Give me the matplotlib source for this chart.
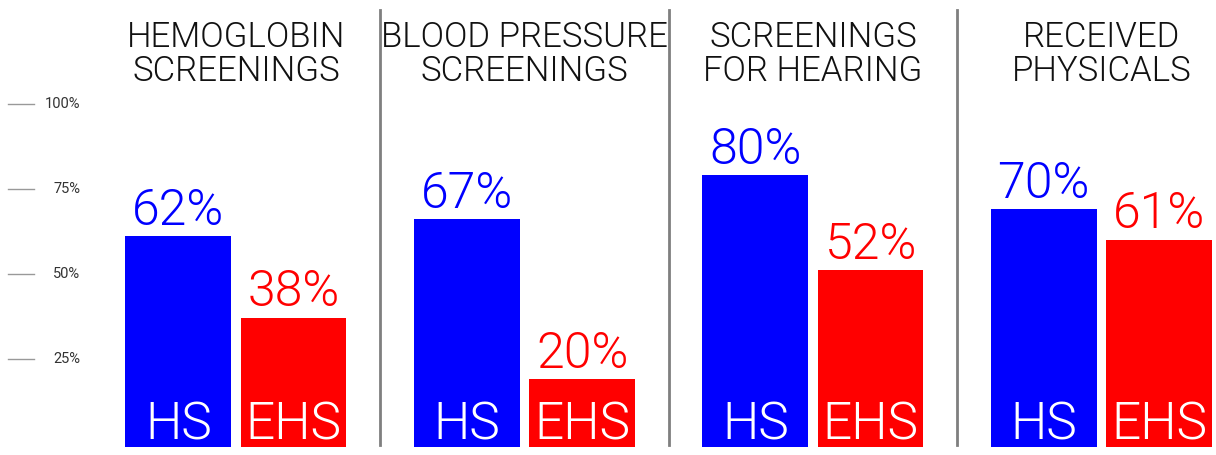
import matplotlib
matplotlib.use("Agg")
import matplotlib.pyplot as plt
import matplotlib.transforms as mtransforms

categories = ["HEMOGLOBIN\nSCREENINGS", "BLOOD PRESSURE\nSCREENINGS",
              "SCREENINGS\nFOR HEARING", "RECEIVED\nPHYSICALS"]
hs_values = [62, 67, 80, 70]
ehs_values = [38, 20, 52, 61]
series_names = ["HS", "EHS"]
tick_values = [25, 50, 75, 100]
tick_labels = ["25%", "50%", "75%", "100%"]

BLUE = "#0000ff"
RED = "#ff0000"
FONT = "Roboto"
WT = 300

fig = plt.figure(figsize=(12.16, 4.55), dpi=100)
ax = fig.add_axes([0, 0, 1, 1])
ax.set_xlim(-0.818, 3.397)
ax.set_ylim(-2.35, 131.5)
ax.axis("off")

off = 0.2
w = 0.366
xs = list(range(len(categories)))
hs_x = [x - off for x in xs]
ehs_x = [x + off for x in xs]
ax.bar(hs_x, hs_values, width=w, color=BLUE, zorder=2)
ax.bar(ehs_x, ehs_values, width=w, color=RED, zorder=2)

for xlist, vals, name, col in [(hs_x, hs_values, series_names[0], BLUE),
                               (ehs_x, ehs_values, series_names[1], RED)]:
    for x, v in zip(xlist, vals):
        ax.annotate(f"{v}%", (x, v), xytext=(0, 1), textcoords="offset points",
                    ha="center", va="bottom", fontsize=36, color=col,
                    family=FONT, fontweight=WT)
        ax.text(x, 2.2, name, ha="center", va="baseline", fontsize=37,
                color="white", family=FONT, fontweight=WT, zorder=3)

# titles
for x, c in zip(xs, categories):
    ax.text(x, 115.5, c, ha="center", va="center", fontsize=25, color="#111111",
            family=FONT, fontweight=WT, linespacing=1.02)

# separators
for s in [0.5, 1.5, 2.5]:
    ax.plot([s, s], [0.5, 128.5], color="#7f7f7f", lw=2, zorder=1)

# y ticks (left)
trans = mtransforms.blended_transform_factory(ax.transAxes, ax.transData)
for tv, tl in zip(tick_values, tick_labels):
    ax.plot([8 / 1216, 34 / 1216], [tv + 1, tv + 1], transform=trans,
            color="#999999", lw=1)
    ax.text(80 / 1216, tv + 1, tl, transform=trans, ha="right", va="center",
            fontsize=10.5, color="#333333", family=FONT)

fig.savefig("out.png", dpi=100, facecolor="white")
